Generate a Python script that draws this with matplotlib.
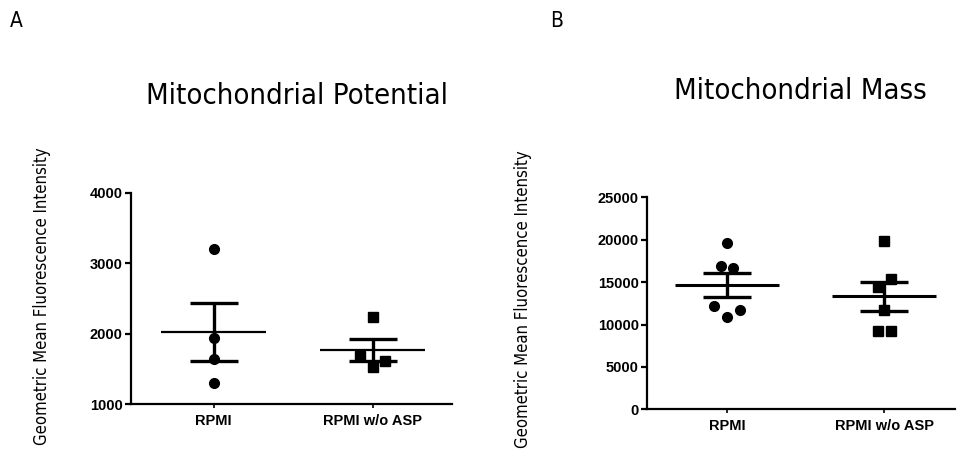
import numpy as np
import matplotlib
matplotlib.use("Agg")
import matplotlib.pyplot as plt
from matplotlib import font_manager
from matplotlib.font_manager import FontProperties

# Values.
categories = ["RPMI", "RPMI w/o ASP"]

pot_rpmi = [3200, 1935, 1640, 1305]
pot_rpmi_jitter = [0, 0, 0, 0]
pot_noasp = [2240, 1675, 1530, 1615]
pot_noasp_jitter = [0, -0.08, 0, 0.08]

mass_rpmi = [19650, 16860, 16630, 12220, 11750, 10920]
mass_rpmi_jitter = [0, -0.04, 0.035, -0.085, 0.08, 0]
mass_noasp = [19880, 15370, 14390, 11710, 9270, 9270]
mass_noasp_jitter = [0, 0.04, -0.04, 0, -0.04, 0.04]

pot_yticks = [1000, 2000, 3000, 4000]
mass_yticks = [0, 5000, 10000, 15000, 20000, 25000]


def pick_narrow_font():
    '''
    Look for any installed condensed / narrow face, regular or light.
    '''
    found = []
    for f in font_manager.fontManager.ttflist:
        is_narrow = ('Narrow' in f.name or 'Condensed' in f.name
                     or f.stretch in ('condensed', 'semi-condensed', 'extra-condensed'))
        if not is_narrow or f.style != 'normal':
            continue
        w = f.weight if isinstance(f.weight, int) else font_manager.weight_dict.get(f.weight, 400)
        if w > 450:
            continue
        found.append((abs(w - 350), f.fname))
    if found:
        found.sort()
        return FontProperties(fname=found[0][1])
    return FontProperties(family='DejaVu Sans')


narrow = pick_narrow_font()
bold = FontProperties(family='Liberation Sans', weight='bold', size=10.5)


def draw_panel(ax, groups, jitters, markers, yticks, mean_lw):
    '''
    Column scatter with mean line and SEM error bar per group.
    '''
    for i, (vals, jit, mk) in enumerate(zip(groups, jitters, markers)):
        vals = np.asarray(vals, dtype=float)
        x = i + np.asarray(jit)
        ax.plot(x, vals, linestyle='none', marker=mk, color='black',
                markersize=7 if mk == 'o' else 6.5, zorder=3)
        mean = vals.mean()
        sem = vals.std(ddof=1) / np.sqrt(len(vals))
        ax.hlines(mean, i - 0.33, i + 0.33, color='black', linewidth=mean_lw, zorder=4)
        ax.errorbar(i, mean, yerr=sem, fmt='none', ecolor='black',
                    elinewidth=2.4, capsize=17, capthick=2.4, zorder=4)

    ax.set_xticks(range(len(categories)))
    ax.set_xticklabels(categories, fontproperties=bold)
    ax.set_yticks(yticks)
    ax.set_yticklabels([str(t) for t in yticks], fontproperties=bold)
    ax.set_ylim(yticks[0], yticks[-1])

    for side in ['top', 'right']:
        ax.spines[side].set_visible(False)
    for side in ['left', 'bottom']:
        ax.spines[side].set_linewidth(1.6)
    ax.tick_params(axis='y', length=4, width=1.6, pad=2)
    ax.tick_params(axis='x', length=3, width=1.2, pad=4)

    lab = narrow.copy()
    lab.set_size(12)
    ax.set_ylabel("Geometric Mean Fluorescence Intensity", fontproperties=lab)


fig = plt.figure(figsize=(9.57, 4.67), dpi=100)

title_font = narrow.copy()
title_font.set_size(21)
letter_font = narrow.copy()
letter_font.set_size(15)

ax1 = fig.add_axes([131 / 957, 1 - 404 / 467, 321 / 957, 211.3 / 467])
draw_panel(ax1, [pot_rpmi, pot_noasp], [pot_rpmi_jitter, pot_noasp_jitter],
           ['o', 's'], pot_yticks, 1.6)
ax1.set_xlim(-0.52, 1.5)
ax1.yaxis.set_label_coords(-0.25, 0.51)

ax2 = fig.add_axes([647 / 957, 1 - 409.3 / 467, 308 / 957, 212 / 467])
draw_panel(ax2, [mass_rpmi, mass_noasp], [mass_rpmi_jitter, mass_noasp_jitter],
           ['o', 's'], mass_yticks, 2.2)
ax2.set_xlim(-0.51, 1.45)
ax2.yaxis.set_label_coords(-0.375, 0.52)

fig.text(297 / 957, 1 - 96 / 467, "Mitochondrial Potential", fontproperties=title_font,
         ha='center', va='center')
fig.text(800 / 957, 1 - 91 / 467, "Mitochondrial Mass", fontproperties=title_font,
         ha='center', va='center')

fig.text(10 / 957, 1 - 21 / 467, "A", fontproperties=letter_font, ha='left', va='center')
fig.text(550 / 957, 1 - 21 / 467, "B", fontproperties=letter_font, ha='left', va='center')

fig.savefig("out.png", dpi=100)
